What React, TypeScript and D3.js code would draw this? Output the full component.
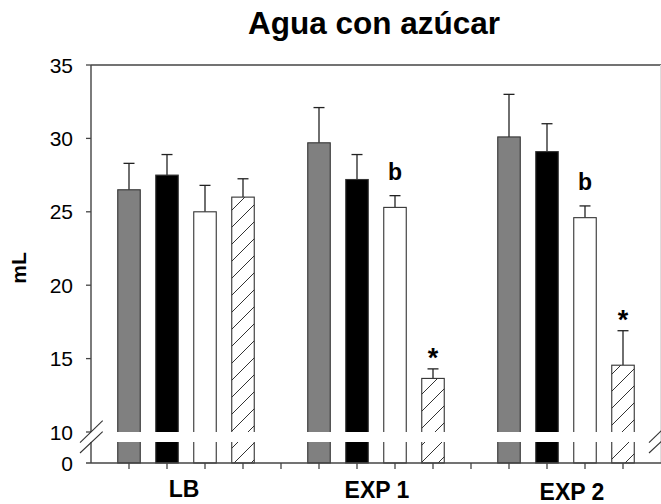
import React from "react";
import * as d3 from "d3";

// Treatment groups along the x axis
const categories = ["LB", "EXP 1", "EXP 2"];

// Mean volume (mL) per condition, one value per group
const grayMeans = [26.5, 29.7, 30.1];
const blackMeans = [27.5, 27.2, 29.1];
const whiteMeans = [25.0, 25.3, 24.6];
const hatchMeans = [26.0, 13.65, 14.55];

// Standard errors (upper whisker only)
const graySE = [1.8, 2.4, 2.9];
const blackSE = [1.4, 1.7, 1.9];
const whiteSE = [1.8, 0.8, 0.8];
const hatchSE = [1.25, 0.65, 2.35];

// Significance marks: [group, series, text]
const marks: [number, number, string][] = [
  [1, 2, "b"],
  [2, 2, "b"],
  [1, 3, "*"],
  [2, 3, "*"],
];

const upperTicks = [10, 15, 20, 25, 30, 35];

const W = 661;
const H = 504;
const left = 91;
const top = 65;
const right = 661;
const breakTop = 432;
const breakBottom = 442;
const bottom = 463;

const xScale = d3.scaleLinear().domain([0, 15]).range([left, right]);
const yUpper = d3.scaleLinear().domain([10, 35]).range([breakTop, top]);

const series = [
  { means: grayMeans, se: graySE, fill: "#808080" },
  { means: blackMeans, se: blackSE, fill: "#000000" },
  { means: whiteMeans, se: whiteSE, fill: "#ffffff" },
  { means: hatchMeans, se: hatchSE, fill: "url(#hatch)" },
];

const barW = 22.5;
const axisColor = "#444";
const font = "Liberation Sans, Arial, Helvetica, sans-serif";

const pos = (g: number, s: number) => g * 5 + s + 1;

export default function App() {
  const bars: React.ReactNode[] = [];
  series.forEach((sr, s) => {
    sr.means.forEach((m, g) => {
      const cx = xScale(pos(g, s));
      const yTop = yUpper(m);
      const yErr = yUpper(m + sr.se[g]);
      bars.push(
        <g key={`b${s}-${g}`}>
          <line x1={cx} x2={cx} y1={yTop} y2={yErr} stroke="#222" strokeWidth={1.3} />
          <line x1={cx - 5.5} x2={cx + 5.5} y1={yErr} y2={yErr} stroke="#222" strokeWidth={1.3} />
          <rect
            x={cx - barW / 2}
            y={yTop}
            width={barW}
            height={bottom - yTop}
            fill={sr.fill}
            stroke="#333"
            strokeWidth={1.1}
          />
        </g>
      );
    });
  });

  const breakMark = (x: number, key: string) => (
    <g key={key} stroke="#333" strokeWidth={1.1}>
      <line x1={x - 11} y1={breakBottom + 0.7} x2={x + 11.7} y2={breakTop - 11.3} />
      <line x1={x - 11} y1={breakBottom + 11} x2={x + 11.7} y2={breakTop - 0.3} />
    </g>
  );

  const xTicks = d3.range(1, 15);

  return (
    <svg width={W} height={H} style={{ position: "absolute", left: 0, top: 0 }}>
      <defs>
        <pattern id="hatch" patternUnits="userSpaceOnUse" width={17} height={17}>
          <rect width={17} height={17} fill="#fff" />
          <path d="M0,17 L17,0 M-4,4 L4,-4 M13,21 L21,13" stroke="#333" strokeWidth={1} />
        </pattern>
      </defs>
      <rect width={W} height={H} fill="#fff" />

      <text x={374} y={34} textAnchor="middle" fontFamily={font} fontWeight="bold" fontSize={31.5}>
        Agua con azúcar
      </text>

      {bars}

      {/* white band of the axis break */}
      <rect x={left - 20} y={breakTop} width={W} height={breakBottom - breakTop} fill="#fff" />

      {/* frame */}
      <line x1={left} x2={right} y1={top} y2={top} stroke={axisColor} strokeWidth={1.6} />
      <line x1={660.5} x2={660.5} y1={top} y2={bottom} stroke="#ddd" strokeWidth={1} />
      <line x1={left} x2={left} y1={top} y2={breakTop} stroke={axisColor} strokeWidth={1.4} />
      <line x1={left} x2={left} y1={breakBottom} y2={bottom} stroke={axisColor} strokeWidth={1.4} />
      <line x1={left - 5} x2={right} y1={bottom} y2={bottom} stroke={axisColor} strokeWidth={1.6} />

      {upperTicks.map((t) => (
        <g key={`yt${t}`}>
          <line x1={left - 5} x2={left} y1={yUpper(t)} y2={yUpper(t)} stroke={axisColor} strokeWidth={1.3} />
          <text x={73} y={yUpper(t)} dy="0.36em" textAnchor="end" fontFamily={font} fontSize={21}>
            {t}
          </text>
        </g>
      ))}
      <text x={73} y={bottom} dy="0.36em" textAnchor="end" fontFamily={font} fontSize={21}>
        0
      </text>

      {xTicks.map((t) => (
        <line key={`xt${t}`} x1={xScale(t)} x2={xScale(t)} y1={bottom} y2={bottom + 6} stroke={axisColor} strokeWidth={1.3} />
      ))}

      {breakMark(left, "bl")}
      {breakMark(660, "br")}

      {categories.map((c, g) => {
        const cx = (xScale(pos(g, 0)) + xScale(pos(g, 3))) / 2;
        const shift = [-2, 1, 6][g];
        const base = [497, 498, 500][g];
        return (
          <text key={c} x={cx + shift} y={base} textAnchor="middle" fontFamily={font} fontWeight="bold" fontSize={23}>
            {c}
          </text>
        );
      })}

      {marks.map(([g, s, txt]) => {
        const sr = series[s];
        const yErr = yUpper(sr.means[g] + sr.se[g]);
        const cx = xScale(pos(g, s));
        const y = txt === "b" ? yErr - 16 : yErr - 2;
        return (
          <text key={`m${g}${s}`} x={cx} y={y} textAnchor="middle" fontFamily={font} fontWeight="bold" fontSize={txt === "b" ? 23 : 27}>
            {txt}
          </text>
        );
      })}

      <text
        transform="translate(26,268) rotate(-90)"
        textAnchor="middle"
        fontFamily={font}
        fontWeight="bold"
        fontSize={21}
      >
        mL
      </text>
    </svg>
  );
}
